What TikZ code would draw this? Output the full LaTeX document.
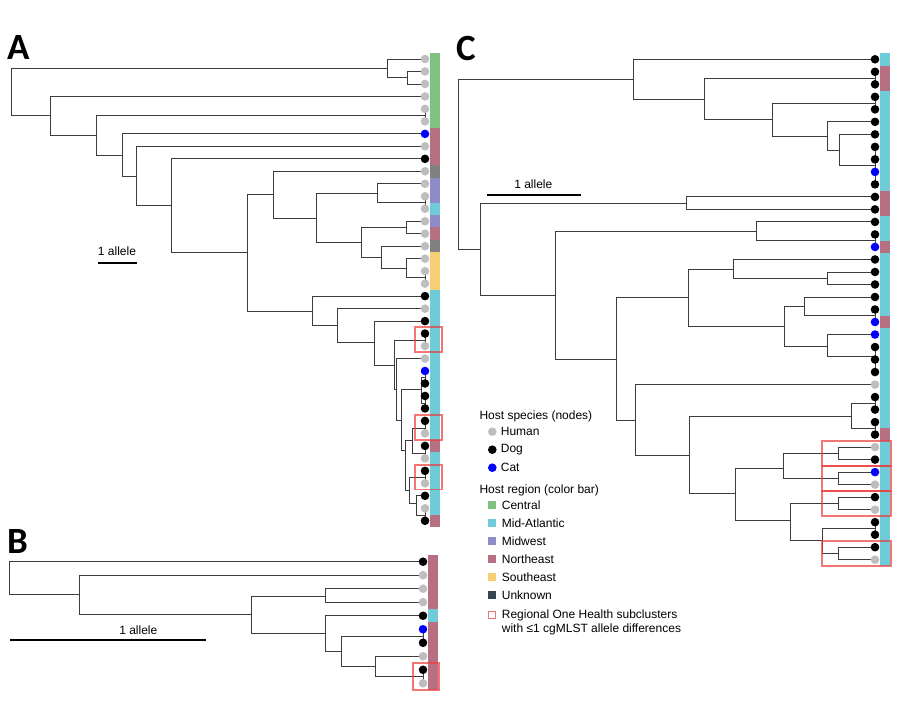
\documentclass[tikz,border=0pt]{standalone}
\usepackage{fontspec}
\setmainfont{Liberation Sans}
\newfontfamily\panelfont{Carlito}
\usetikzlibrary{backgrounds}

\definecolor{treeline}{RGB}{60,60,60}
\definecolor{central}{RGB}{128,192,128}
\definecolor{midatl}{RGB}{112,203,216}
\definecolor{midwest}{RGB}{142,140,200}
\definecolor{northeast}{RGB}{182,112,130}
\definecolor{southeast}{RGB}{246,206,118}
\definecolor{unknownbar}{RGB}{128,128,128}
\definecolor{unknownkey}{RGB}{52,70,80}
\definecolor{humangray}{RGB}{190,190,190}
\definecolor{catblue}{RGB}{0,0,255}
\definecolor{boxred}{RGB}{235,60,60}

\begin{document}
\begin{tikzpicture}[x=1pt, y=-1pt,
    branch/.style={draw=treeline, line width=0.9pt},
    tipdot/.style={circle, inner sep=0pt, minimum size=8.6pt},
    hum/.style={tipdot, fill=humangray},
    dog/.style={tipdot, fill=black},
    cat/.style={tipdot, fill=catblue},
    keybox/.style={rectangle, inner sep=0pt, minimum size=8pt},
    subcluster/.style={draw=boxred, draw opacity=0.7, line width=1.8pt},
    keytext/.style={font=\fontsize{12}{14}\selectfont, inner sep=0pt},
    panel/.style={font=\panelfont\bfseries\fontsize{37}{37}\selectfont, inner sep=0pt, anchor=base west},
    scalebar/.style={draw=black, line width=1.6pt}
]
    \useasboundingbox (0,0) rectangle (900,706);

    % Panel letters
    \node[panel] (panelA) at (7,60) {A};
    \node[panel] (panelB) at (7,553) {B};
    \node[panel] (panelC) at (456,61) {C};

    % Tree A: tips
    \foreach \s [count=\i] in {hum,hum,hum,hum,hum,hum,cat,hum,dog,hum,hum,hum,hum,hum,hum,hum,hum,hum,hum,dog,hum,dog,dog,hum,hum,cat,dog,dog,dog,dog,hum,dog,hum,dog,hum,dog,hum,dog}
        \node[\s] (a\i) at (425,{59+(\i-1)*12.48}) {};
    % Tree A: inner nodes
    \foreach \n/\x/\y in {aR/11/92, aN1/387/68, aN3/407/77, aN2/50/115.7, aN4/96/135, aP56/425/115, aN5/122/155, aN6/136/176, aN7/171/205.7, aN8/247/252.7, aN9/273/194, aN11/316.7/218, aN12/377.7/193, aP1213/425/202.7, aN13/361/242, aN14/406.7/227.7, aN15/381/257.7, aN16/406.7/268.3, aP1819/425/277.3, aN10/312/311, aN17/337/325.7, aN18/374/342.7, aN19/394/365, aP2324/425/340, aN20/396/389, aN21/401.7/420, aN22/421/389, aP2627/425/377, aP2829/425/403, aN23/405/450, aN24/412/440, aP3031/425/428, aP3233/425/453, aN25/409/490, aP3435/425/477.7, aN26/416/503, aP3738/425/515}
        \coordinate (\n) at (\x,\y);

    % Tree B: tips
    \foreach \s [count=\i] in {dog,hum,hum,hum,dog,cat,dog,hum,dog,hum}
        \node[\s] (b\i) at (423,{561.7+(\i-1)*13.51}) {};
    % Tree B: inner nodes
    \foreach \n/\x/\y in {bR/9.3/578, bN1/79.3/594.3, bN2/251.7/614.3, bN3/325/596, bN4/325/633.3, bN5/341.7/651, bP67/423/636.7, bN6/375/666.7, bP910/423/676.7}
        \coordinate (\n) at (\x,\y);

    % Tree C: tips
    \foreach \s [count=\i] in {dog,dog,dog,dog,dog,dog,dog,dog,dog,cat,dog,dog,dog,dog,dog,cat,dog,dog,dog,dog,dog,cat,cat,dog,dog,dog,hum,dog,dog,dog,dog,hum,dog,cat,hum,dog,hum,dog,dog,dog,hum}
        \node[\s] (c\i) at (875,{59.3+(\i-1)*12.51}) {};
    % Tree C: inner nodes
    \foreach \n/\x/\y in {cR/458.3/164, cN1/633.3/79.3, cN3/704/99, cP23/875/78.1, cN4/772.7/119.3, cP45/875/103.1, cN5/827.7/136, cN6/839.3/150, cG811/875/165.7, cN2/480/249.3, cN7/686/203.3, cN8/555.3/295, cN9/756.7/231.7, cP1516/875/240.7, cN10/616.7/359, cN11/688.3/297.3, cN13/733.3/269.3, cN15/827.7/278.3, cN14/784.3/326, cN16/804.3/306.7, cP2122/875/315.7, cN17/827.7/346, cG2426/875/356.7, cN12/635/420, cN18/689.3/455, cN19/851.7/416.7, cP2829/875/403.3, cP3031/875/428.3, cN20/735/493.3, cN21/783/468, cN23/838/453.3, cN24/838/478.3, cN22/790/520, cN25/838/503.3, cN26/822/540, cP3839/875/528.3, cN27/838/553.3}
        \coordinate (\n) at (\x,\y);

    % Branches
    \begin{pgfonlayer}{background}
    \foreach \p/\c in {aR/aN1, aR/aN2, aN1/a1, aN1/aN3, aN3/a2, aN3/a3, aN2/a4, aN2/aN4, aN4/aP56, aN4/aN5, aP56/a5, aP56/a6, aN5/a7, aN5/aN6, aN6/a8, aN6/aN7, aN7/a9, aN7/aN8, aN8/aN9, aN8/aN10, aN9/a10, aN9/aN11, aN11/aN12, aN11/aN13, aN12/a11, aN12/aP1213, aP1213/a12, aP1213/a13, aN13/aN14, aN13/aN15, aN14/a14, aN14/a15, aN15/a16, aN15/aN16, aN16/a17, aN16/aP1819, aP1819/a18, aP1819/a19, aN10/a20, aN10/aN17, aN17/a21, aN17/aN18, aN18/a22, aN18/aN19, aN19/aP2324, aN19/aN20, aP2324/a23, aP2324/a24, aN20/a25, aN20/aN21, aN21/aN22, aN21/aN23, aN22/aP2627, aN22/aP2829, aP2627/a26, aP2627/a27, aP2829/a28, aP2829/a29, aN23/aN24, aN23/aN25, aN24/aP3031, aN24/aP3233, aP3031/a30, aP3031/a31, aP3233/a32, aP3233/a33, aN25/aP3435, aN25/aN26, aP3435/a34, aP3435/a35, aN26/a36, aN26/aP3738, aP3738/a37, aP3738/a38}
        \draw[branch] (\p.center) |- (\c.center);
    \foreach \p/\c in {bR/b1, bR/bN1, bN1/b2, bN1/bN2, bN2/bN3, bN2/bN4, bN3/b3, bN3/b4, bN4/b5, bN4/bN5, bN5/bP67, bN5/bN6, bP67/b6, bP67/b7, bN6/b8, bN6/bP910, bP910/b9, bP910/b10}
        \draw[branch] (\p.center) |- (\c.center);
    \foreach \p/\c in {cR/cN1, cR/cN2, cN1/c1, cN1/cN3, cN3/cP23, cN3/cN4, cP23/c2, cP23/c3, cN4/cP45, cN4/cN5, cP45/c4, cP45/c5, cN5/c6, cN5/cN6, cN6/c7, cN6/cG811, cG811/c8, cG811/c9, cG811/c10, cG811/c11, cN2/cN7, cN2/cN8, cN7/c12, cN7/c13, cN8/cN9, cN8/cN10, cN9/c14, cN9/cP1516, cP1516/c15, cP1516/c16, cN10/cN11, cN10/cN12, cN11/cN13, cN11/cN14, cN13/c17, cN13/cN15, cN15/c18, cN15/c19, cN14/cN16, cN14/cN17, cN16/c20, cN16/cP2122, cP2122/c21, cP2122/c22, cN17/c23, cN17/cG2426, cG2426/c24, cG2426/c25, cG2426/c26, cN12/c27, cN12/cN18, cN18/cN19, cN18/cN20, cN19/cP2829, cN19/cP3031, cP2829/c28, cP2829/c29, cP3031/c30, cP3031/c31, cN20/cN21, cN20/cN22, cN21/cN23, cN21/cN24, cN23/c32, cN23/c33, cN24/c34, cN24/c35, cN22/cN25, cN22/cN26, cN25/c36, cN25/c37, cN26/cP3839, cN26/cN27, cP3839/c38, cP3839/c39, cN27/c40, cN27/c41}
        \draw[branch] (\p.center) |- (\c.center);
    \end{pgfonlayer}

    % Color bars
    \foreach \f/\t/\col in {1/6/central, 7/9/northeast, 10/10/unknownbar, 11/12/midwest, 13/13/midatl, 14/14/midwest, 15/15/northeast, 16/16/unknownbar, 17/19/southeast, 20/31/midatl, 32/32/northeast, 33/37/midatl, 38/38/northeast}
        \fill[\col] (430,{59+(\f-1.5)*12.48}) rectangle (440,{59+(\t-0.5)*12.48});
    \foreach \f/\t/\col in {1/4/northeast, 5/5/midatl, 6/10/northeast}
        \fill[\col] (428,{561.7+(\f-1.5)*13.51}) rectangle (438,{561.7+(\t-0.5)*13.51});
    \foreach \f/\t/\col in {1/1/midatl, 2/3/northeast, 4/11/midatl, 12/13/northeast, 14/15/midatl, 16/16/northeast, 17/21/midatl, 22/22/northeast, 23/30/midatl, 31/31/northeast, 32/41/midatl}
        \fill[\col] (880,{59.3+(\f-1.5)*12.51}) rectangle (890,{59.3+(\t-0.5)*12.51});

    % Subcluster boxes
    \foreach \f in {23,30,34}
        \draw[subcluster] (415,{59+(\f-1.5)*12.48}) rectangle (442,{59+(\f+0.5)*12.48});
    \draw[subcluster] (413,663) rectangle (439,690);
    \foreach \f in {32,34,36,40}
        \draw[subcluster] (822,{59.3+(\f-1.5)*12.51}) rectangle (891,{59.3+(\f+0.5)*12.51});

    % Scale bars
    \coordinate (sbA1) at (97.7,262.7);  \coordinate (sbA2) at (136.7,262.7);
    \coordinate (sbB1) at (10,640);      \coordinate (sbB2) at (205.7,640);
    \coordinate (sbC1) at (486.7,195);   \coordinate (sbC2) at (580.7,195);
    \draw[scalebar] (sbA1) -- (sbA2);
    \draw[scalebar] (sbB1) -- (sbB2);
    \draw[scalebar] (sbC1) -- (sbC2);
    \node[keytext, anchor=base] (scaleA) at (117,255) {1 allele};
    \node[keytext, anchor=base] (scaleB) at (138.3,634) {1 allele};
    \node[keytext, anchor=base] (scaleC) at (533.3,188.3) {1 allele};

    % Legend
    \node[keytext, anchor=west] (speciestitle) at (479.3,416.7) {Host species (nodes)};
    \foreach \s/\txt [count=\k] in {hum/Human, dog/Dog, cat/Cat} {
        \node[\s] (keydot\k) at (492.3,{431.7+(\k-1)*18}) {};
        \node[keytext, anchor=west] (keydottext\k) at (500.7,{431.7+(\k-1)*18}) {\txt};
    }
    \node[keytext, anchor=west] (regiontitle) at (479.3,490.7) {Host region (color bar)};
    \foreach \col/\txt [count=\k] in {central/Central, midatl/Mid-Atlantic, midwest/Midwest, northeast/Northeast, southeast/Southeast, unknownkey/Unknown} {
        \node[keybox, fill=\col] (keybox\k) at (492.2,{505+(\k-1)*17.95}) {};
        \node[keytext, anchor=west] (keyboxtext\k) at (501.7,{505+(\k-1)*17.95}) {\txt};
    }
    \node[keybox, draw=boxred, draw opacity=0.7, line width=1.2pt, minimum size=7pt] (keysub) at (492.2,615) {};
    \node[keytext, anchor=west] (keysubtext1) at (501.7,615) {Regional One Health subclusters};
    \node[keytext, anchor=west] (keysubtext2) at (501.7,629.3) {with ≤1 cgMLST allele differences};
\end{tikzpicture}
\end{document}
